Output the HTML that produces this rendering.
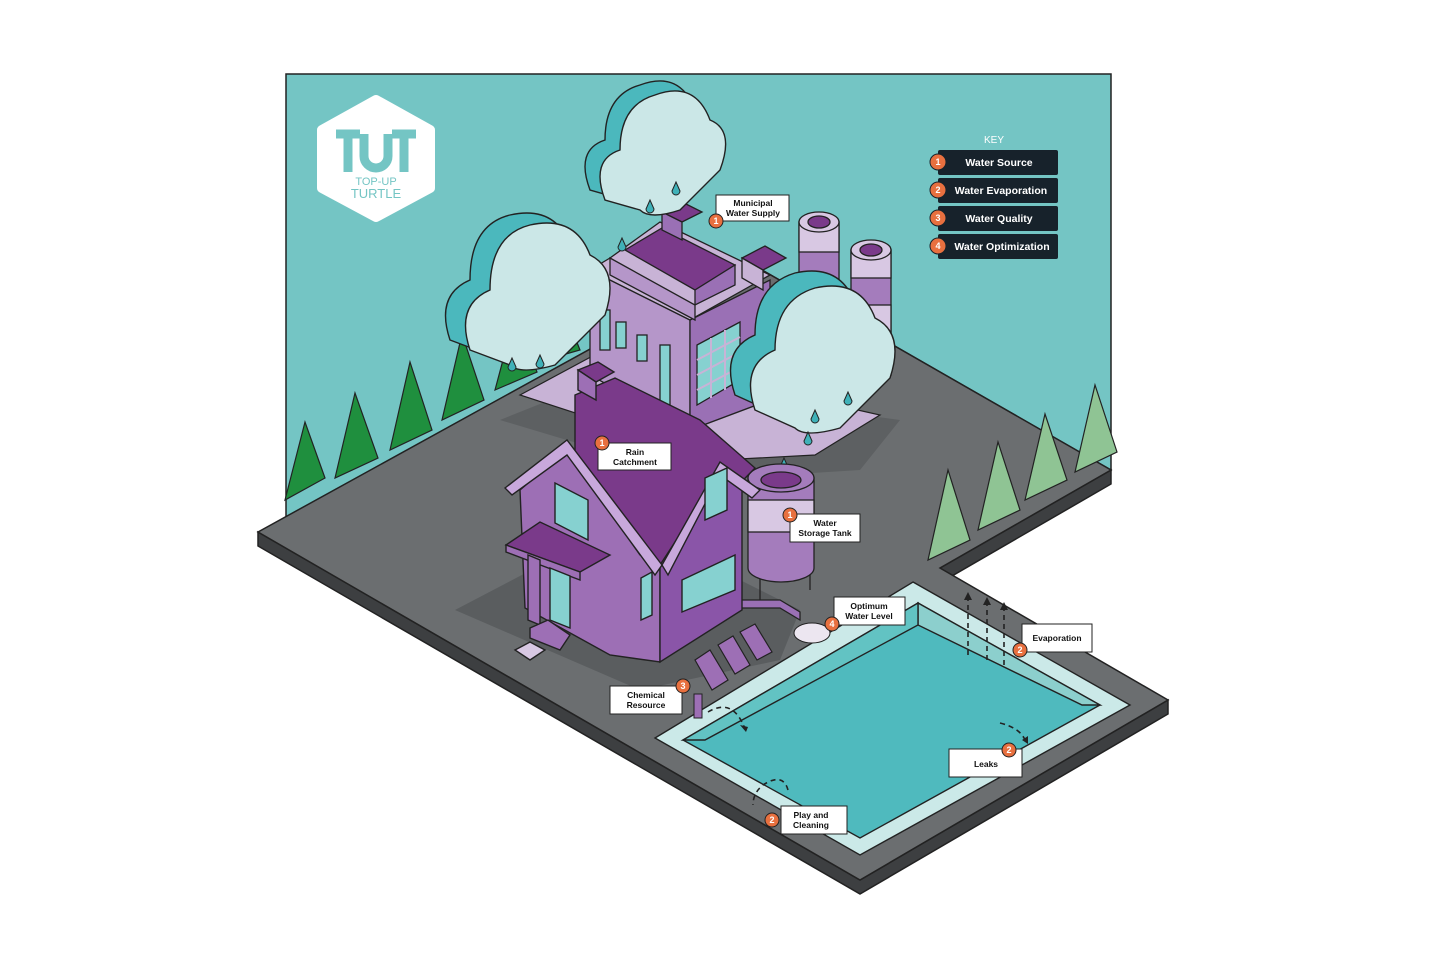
<!DOCTYPE html>
<html><head><meta charset="utf-8"><style>
html,body{margin:0;padding:0;background:#fff;}
svg{display:block}
text{font-family:"Liberation Sans",sans-serif;}
</style></head><body>
<svg width="1445" height="971" viewBox="0 0 1445 971" xmlns="http://www.w3.org/2000/svg">
<rect width="1445" height="971" fill="#fff"/>
<!-- back wall -->
<polygon points="286,74 1111,74 1111,470 748,262 286,517" fill="#74c5c4" stroke="#222" stroke-width="1.5"/>
<!-- floor side faces -->
<polygon points="258,532 860,880 1168,700 1168,714 860,894 258,546" fill="#3d3f41" stroke="#222" stroke-width="1.5"/>
<polygon points="1111,470 1111,484 945,580 940,568" fill="#3d3f41" stroke="#222" stroke-width="1.5"/>
<!-- floor top -->
<polygon points="258,532 748,262 1111,470 940,568 1168,700 860,880" fill="#6b6e70" stroke="#222" stroke-width="1.5"/>
<!-- shadows -->
<polygon points="455,610 560,555 700,560 800,610 780,660 640,690" fill="#5a5d5f"/>
<polygon points="500,420 600,380 900,420 860,470 700,480" fill="#5d6062"/>
<!-- factory base pad -->
<polygon points="520,395 600,352 880,415 815,455 720,460" fill="#c8b3d6" stroke="#222" stroke-width="1.2"/>
<!-- cylinders -->
<g stroke="#222" stroke-width="1.3">
<rect x="799" y="222" width="40" height="140" fill="#a47cbc"/>
<rect x="799" y="222" width="40" height="30" fill="#d8c8e3"/>
<rect x="799" y="280" width="40" height="30" fill="#d8c8e3"/>
<ellipse cx="819" cy="222" rx="20" ry="10" fill="#d8c8e3"/>
<ellipse cx="819" cy="222" rx="11" ry="6" fill="#7a3a8a"/>
<rect x="851" y="250" width="40" height="125" fill="#a47cbc"/>
<rect x="851" y="250" width="40" height="28" fill="#d8c8e3"/>
<rect x="851" y="305" width="40" height="28" fill="#d8c8e3"/>
<ellipse cx="871" cy="250" rx="20" ry="10" fill="#d8c8e3"/>
<ellipse cx="871" cy="250" rx="11" ry="6" fill="#7a3a8a"/>
</g>
<!-- factory -->
<g stroke="#222" stroke-width="1.3">
<polygon points="590,270 690,320 690,430 590,375" fill="#b596c9"/>
<polygon points="690,320 770,280 770,400 690,430" fill="#9a70b5"/>
<polygon points="610,258 660,222 770,275 690,320 590,270" fill="#c8b3d6"/>
<polygon points="625,250 662,228 735,265 695,290" fill="#7a3a8a"/>
<polygon points="695,290 735,265 735,285 695,305" fill="#9a70b5"/>
<polygon points="610,258 695,305 695,320 610,275" fill="#b596c9"/>
<polygon points="662,212 682,202 702,212 682,222" fill="#7a3a8a"/>
<polygon points="662,212 682,222 682,240 662,230" fill="#9a70b5"/>
<polygon points="742,258 765,246 786,258 763,270" fill="#7a3a8a"/>
<polygon points="742,258 763,270 763,290 742,278" fill="#c8b3d6"/>
<rect x="600" y="310" width="10" height="40" fill="#86d1d0"/>
<rect x="616" y="322" width="10" height="26" fill="#86d1d0"/>
<rect x="637" y="335" width="10" height="26" fill="#86d1d0"/>
<rect x="660" y="345" width="10" height="60" fill="#86d1d0"/>
<polygon points="697,345 740,322 740,380 697,405" fill="#86d1d0"/>
</g>
<g stroke="#c8b3d6" stroke-width="2"><line x1="697" y1="360" x2="740" y2="337"/><line x1="697" y1="375" x2="740" y2="352"/><line x1="697" y1="390" x2="740" y2="367"/><line x1="711" y1="338" x2="711" y2="398"/><line x1="725" y1="330" x2="725" y2="390"/></g>
<!-- trees left -->
<g stroke="#222" stroke-width="1.2" fill="#1f8f3e">
<polygon points="305,422 285,500 325,478"/><polygon points="355,393 335,478 378,458"/><polygon points="410,362 390,450 432,430"/><polygon points="462,334 442,420 484,400"/><polygon points="515,315 495,390 537,372"/><polygon points="560,300 545,360 580,350"/>
</g>
<!-- trees right -->
<g stroke="#222" stroke-width="1.2" fill="#8fc494">
<polygon points="948,470 928,560 970,540"/><polygon points="998,442 978,530 1020,510"/><polygon points="1045,414 1025,500 1067,480"/><polygon points="1095,385 1075,472 1117,452"/>
</g>
<!-- clouds -->
<g stroke="#222" stroke-width="1.4">
<path d="M590,190 q-15,-40 15,-50 q0,-45 35,-55 q40,-15 55,25 q25,10 10,50 l-40,40 q-30,10 -40,0 z" fill="#4bb8bd"/>
<path d="M605,200 q-15,-40 15,-50 q0,-45 35,-55 q40,-15 55,25 q25,10 10,50 l-40,40 q-30,10 -40,0 z" fill="#cbe7e7"/>
<path d="M450,340 q-15,-45 20,-60 q0,-55 40,-65 q45,-10 60,30 q30,15 15,60 l-50,50 q-35,10 -45,0 z" fill="#4bb8bd"/>
<path d="M470,350 q-15,-45 20,-60 q0,-55 40,-65 q45,-10 60,30 q30,15 15,60 l-50,50 q-35,10 -45,0 z" fill="#cbe7e7"/>
<path d="M735,395 q-15,-45 20,-60 q0,-50 40,-62 q45,-10 60,30 q30,15 15,60 l-50,50 q-35,10 -45,0 z" fill="#4bb8bd"/>
<path d="M755,410 q-15,-45 20,-60 q0,-50 40,-62 q45,-10 60,30 q30,15 15,60 l-50,50 q-35,10 -45,0 z" fill="#cbe7e7"/>
</g>
<g fill="#3fb1b8" stroke="#222" stroke-width="1">
<path d="M676,182 l-4,9 a4,4 0 1,0 8,0z"/><path d="M650,200 l-4,9 a4,4 0 1,0 8,0z"/><path d="M622,238 l-4,9 a4,4 0 1,0 8,0z"/><path d="M512,358 l-4,9 a4,4 0 1,0 8,0z"/><path d="M540,355 l-4,9 a4,4 0 1,0 8,0z"/><path d="M848,392 l-4,9 a4,4 0 1,0 8,0z"/><path d="M815,410 l-4,9 a4,4 0 1,0 8,0z"/><path d="M808,432 l-4,9 a4,4 0 1,0 8,0z"/><path d="M784,458 l-4,9 a4,4 0 1,0 8,0z"/>
</g>
<!-- water tank -->
<g stroke="#222" stroke-width="1.3">
<line x1="760" y1="570" x2="760" y2="600"/><line x1="810" y1="570" x2="810" y2="590"/>
<path d="M748,478 v90 a33,14 0 0,0 66,0 v-90z" fill="#a47cbc"/>
<rect x="748" y="500" width="66" height="32" fill="#d8c8e3"/>
<ellipse cx="781" cy="478" rx="33" ry="14" fill="#a47cbc"/>
<ellipse cx="781" cy="480" rx="20" ry="8" fill="#7a3a8a"/>
<path d="M740,600 h40 l20,12 v8 l-20,-12 h-40z" fill="#9a70b5"/>
</g>
<!-- house -->
<g stroke="#222" stroke-width="1.4">
<polygon points="575,395 615,378 700,420 755,468 660,565 575,495" fill="#7a3a8a"/>
<polygon points="520,490 567,450 640,555 660,565 660,662 610,655 525,608" fill="#9d6fb5"/>
<polygon points="660,565 722,470 742,480 742,610 660,662" fill="#8a55a8"/>
<polygon points="505,488 567,440 662,565 655,575 567,455 512,495" fill="#c8a8dc"/>
<polygon points="662,565 720,462 760,490 752,498 720,475 668,575" fill="#c8a8dc"/>
<polygon points="555,483 588,500 588,540 555,523" fill="#86d1d0"/>
<polygon points="705,478 727,468 727,510 705,520" fill="#86d1d0"/>
<polygon points="682,580 735,555 735,590 682,612" fill="#86d1d0"/>
<polygon points="641,578 652,572 652,615 641,620" fill="#86d1d0"/>
<polygon points="506,545 540,522 610,555 580,572" fill="#7a3a8a"/>
<polygon points="506,545 580,572 580,580 506,552" fill="#9d6fb5"/>
<polygon points="528,555 540,560 540,625 528,620" fill="#9d6fb5"/>
<polygon points="550,568 570,576 570,628 550,620" fill="#86d1d0"/>
<polygon points="530,628 548,620 570,635 560,650 530,638" fill="#9d6fb5"/>
<polygon points="515,650 530,642 545,650 530,660" fill="#d8c8e3"/>
<polygon points="578,370 598,362 614,372 596,382" fill="#7a3a8a"/>
<polygon points="578,370 596,382 596,400 578,390" fill="#9d6fb5"/>
</g>
<!-- lounge chairs -->
<g stroke="#222" stroke-width="1.2" fill="#9d6fb5">
<polygon points="695,660 710,650 728,680 712,690"/><polygon points="718,645 733,636 750,665 735,674"/><polygon points="740,632 755,624 772,652 757,660"/>
</g>
<!-- pool -->
<g stroke="#222" stroke-width="1.4">
<polygon points="913,582 1130,705 860,855 655,738" fill="#cbe9e8"/>
<polygon points="918,603 1100,705 860,838 683,740" fill="#4fbabe"/>
<polygon points="918,603 1100,705 1082,705 918,625" fill="#8ccfcd"/>
<polygon points="918,603 918,625 705,740 683,740" fill="#62c3c3"/>
</g>
<ellipse cx="812" cy="633" rx="18" ry="10" fill="#ece6f0" stroke="#222"/>
<rect x="694" y="694" width="8" height="24" fill="#9d6fb5" stroke="#222"/>
<!-- dashed arrows -->
<g stroke="#222" stroke-width="1.6" fill="none" stroke-dasharray="5,4">
<path d="M968,655 v-55"/><path d="M987,660 v-55"/><path d="M1004,665 v-55"/>
<path d="M708,712 q25,-15 37,17"/><path d="M1000,723 q20,5 25,17"/><path d="M788,790 q-5,-18 -25,-5 q-10,8 -10,20"/>
</g>
<g fill="#222"><polygon points="964,600 972,600 968,592"/><polygon points="983,605 991,605 987,597"/><polygon points="1000,610 1008,610 1004,602"/><polygon points="740,725 748,727 746,732"/><polygon points="1022,740 1028,736 1028,744"/></g>
<!-- labels -->
<g font-size="8.5" text-anchor="middle" fill="#111" font-weight="bold">
<g stroke="#222" stroke-width="1" fill="#fff">
<rect x="716" y="195" width="73" height="26"/><rect x="598" y="443" width="73" height="27"/><rect x="790" y="514" width="70" height="28"/><rect x="834" y="597" width="71" height="28"/><rect x="1022" y="624" width="70" height="28"/><rect x="610" y="686" width="72" height="28"/><rect x="949" y="749" width="73" height="28"/><rect x="781" y="806" width="66" height="28"/>
</g>
<text x="753" y="206">Municipal</text><text x="753" y="216">Water Supply</text>
<text x="635" y="455">Rain</text><text x="635" y="465">Catchment</text>
<text x="825" y="526">Water</text><text x="825" y="536">Storage Tank</text>
<text x="869" y="609">Optimum</text><text x="869" y="619">Water Level</text>
<text x="1057" y="641">Evaporation</text>
<text x="646" y="698">Chemical</text><text x="646" y="708">Resource</text>
<text x="986" y="767">Leaks</text>
<text x="811" y="818">Play and</text><text x="811" y="828">Cleaning</text>
</g>
<g fill="#e8703f" stroke="#222" stroke-width="1">
<circle cx="716" cy="221" r="7"/><circle cx="602" cy="443" r="7"/><circle cx="790" cy="515" r="7"/><circle cx="832" cy="624" r="7"/><circle cx="1020" cy="650" r="7"/><circle cx="683" cy="686" r="7"/><circle cx="1009" cy="750" r="7"/><circle cx="772" cy="820" r="7"/>
</g>
<g font-size="9" fill="#fff" text-anchor="middle" font-weight="bold">
<text x="716" y="224">1</text><text x="602" y="446">1</text><text x="790" y="518">1</text><text x="832" y="627">4</text><text x="1020" y="653">2</text><text x="683" y="689">3</text><text x="1009" y="753">2</text><text x="772" y="823">2</text>
</g>
<!-- key -->
<text x="994" y="143" font-size="10" fill="#fff" text-anchor="middle">KEY</text>
<g fill="#17222b"><rect x="938" y="150" width="120" height="25" rx="2"/><rect x="938" y="178" width="120" height="25" rx="2"/><rect x="938" y="206" width="120" height="25" rx="2"/><rect x="938" y="234" width="120" height="25" rx="2"/></g>
<g fill="#e8703f" stroke="#17222b" stroke-width="1"><circle cx="938" cy="162" r="8"/><circle cx="938" cy="190" r="8"/><circle cx="938" cy="218" r="8"/><circle cx="938" cy="246" r="8"/></g>
<g font-size="9" fill="#fff" text-anchor="middle" font-weight="bold"><text x="938" y="165">1</text><text x="938" y="193">2</text><text x="938" y="221">3</text><text x="938" y="249">4</text></g>
<g font-size="10.5" fill="#fff" text-anchor="middle" font-weight="bold"><text x="999" y="166">Water Source</text><text x="1001" y="194">Water Evaporation</text><text x="999" y="222">Water Quality</text><text x="1002" y="250">Water Optimization</text></g>
<!-- logo -->
<path d="M376,100 L430,130 L430,188 L376,217 L322,188 L322,130 Z" fill="#fff" stroke="#fff" stroke-width="10" stroke-linejoin="round"/>
<g fill="none" stroke="#74c5c4" stroke-width="9">
<path d="M336,134 h24 M348,134 v38"/><path d="M392,134 h24 M404,134 v38"/><path d="M364,134 v22 a12,12 0 0,0 24,0 v-22"/>
</g>
<text x="376" y="185" font-size="11" fill="#74c5c4" text-anchor="middle">TOP-UP</text>
<text x="376" y="198" font-size="13" fill="#74c5c4" text-anchor="middle">TURTLE</text>
</svg>
</body></html>
